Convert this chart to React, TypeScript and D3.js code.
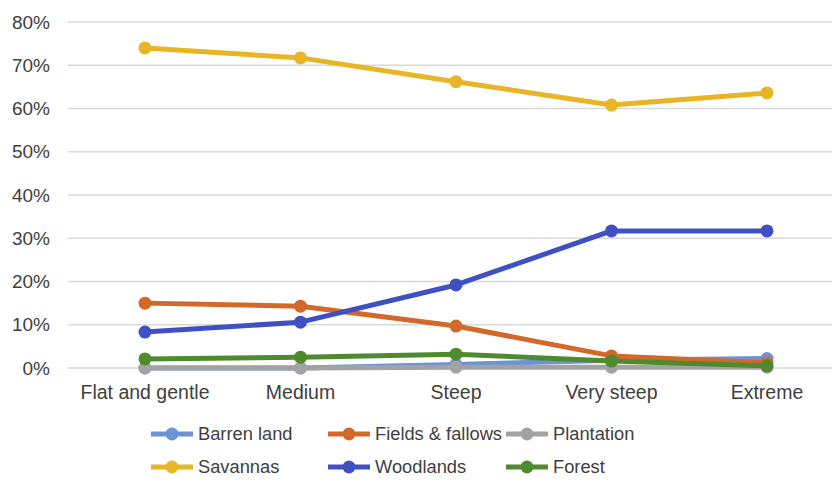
import React from "react";
import * as d3 from "d3";

const categories = ["Flat and gentle", "Medium", "Steep", "Very steep", "Extreme"];
const yTicks = [0, 0.1, 0.2, 0.3, 0.4, 0.5, 0.6, 0.7, 0.8];

const seriesNames = ["Barren land", "Fields & fallows", "Plantation", "Savannas", "Woodlands", "Forest"];
const barren = [0.0, 0.0, 0.008, 0.018, 0.022];
const fields = [0.150, 0.143, 0.097, 0.028, 0.012];
const plantation = [0.0, 0.0, 0.002, 0.002, 0.002];
const savannas = [0.740, 0.717, 0.662, 0.608, 0.636];
const woodlands = [0.083, 0.106, 0.192, 0.317, 0.317];
const forest = [0.021, 0.025, 0.032, 0.016, 0.005];
const seriesValues = [barren, fields, plantation, savannas, woodlands, forest];
const colors = ["#6b93d6", "#d2692a", "#a3a3a3", "#e7b526", "#3f51c2", "#4f8a2e"];

const W = 832;
const H = 482;
const FONT = "'Liberation Sans', Arial, sans-serif";

export default function App() {
  const x = d3.scalePoint<string>().domain(categories).range([145, 767]);
  const y = d3.scaleLinear().domain([0, 0.8]).range([368, 22]);
  const line = d3
    .line<number>()
    .x((_, i) => x(categories[i]) as number)
    .y((d) => y(d));
  const fmt = d3.format(".0%");

  const legendCols = [151, 328, 506];
  const legendRows = [434, 467];

  return (
    <svg
      width={W}
      height={H}
      style={{ position: "absolute", left: 0, top: 0, background: "#fff" }}
      fontFamily={FONT}
    >
      {yTicks.map((t) => (
        <g key={t}>
          <line x1={68} x2={W} y1={y(t)} y2={y(t)} stroke="#d9d9d9" strokeWidth={1.5} />
          <text x={50} y={y(t)} dy="0.35em" textAnchor="end" fontSize={19} fill="#404040">
            {fmt(t)}
          </text>
        </g>
      ))}
      {categories.map((c) => (
        <text key={c} x={x(c)} y={392} dy="0.35em" textAnchor="middle" fontSize={19.5} fill="#404040">
          {c}
        </text>
      ))}
      {seriesValues.map((vals, si) => (
        <g key={seriesNames[si]}>
          <path d={line(vals) || ""} fill="none" stroke={colors[si]} strokeWidth={5} strokeLinejoin="round" />
          {vals.map((v, i) => (
            <circle key={i} cx={x(categories[i])} cy={y(v)} r={6.5} fill={colors[si]} />
          ))}
        </g>
      ))}
      {seriesNames.map((n, si) => {
        const lx = legendCols[si % 3];
        const ly = legendRows[Math.floor(si / 3)];
        return (
          <g key={n}>
            <line x1={lx} x2={lx + 42} y1={ly} y2={ly} stroke={colors[si]} strokeWidth={5} />
            <circle cx={lx + 21} cy={ly} r={6.5} fill={colors[si]} />
            <text x={lx + 47} y={ly} dy="0.35em" fontSize={18.3} fill="#404040">
              {n}
            </text>
          </g>
        );
      })}
    </svg>
  );
}
